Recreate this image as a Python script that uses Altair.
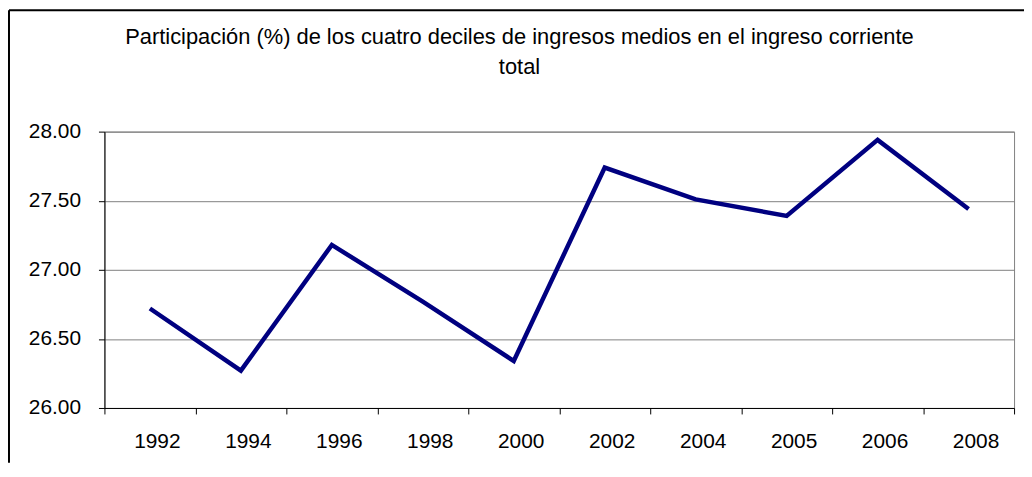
import altair as alt
import pandas as pd

years = ["1992", "1994", "1996", "1998", "2000", "2002", "2004", "2005", "2006", "2008"]
values = [26.72, 26.27, 27.18, 26.77, 26.34, 27.74, 27.51, 27.39, 27.94, 27.44]
title_lines = ["Participación (%) de los cuatro deciles de ingresos medios en el ingreso corriente", "total"]

df = pd.DataFrame({"year": years, "value": values})

W, H = 915, 278
PAD = {"left": 97, "top": 123, "right": 10, "bottom": 55}
FONT = "Liberation Sans"
FS = 21

base = alt.Chart(df)

line = base.mark_line(color="#000080", strokeWidth=4.5, strokeJoin="miter", strokeCap="butt").encode(
    x=alt.X(
        "year:N",
        sort=years,
        bandPosition=0.5,
        scale=alt.Scale(type="band", paddingInner=0, paddingOuter=0),
        axis=alt.Axis(
            title=None,
            labelAngle=0,
            tickBand="extent",
            labelOffset=7,
            labelPadding=17,
            tickSize=6,
            grid=False,
            domainColor="#000000",
            tickColor="#000000",
            labelFont=FONT,
            labelFontSize=FS,
            labelColor="#000000",
        ),
    ),
    y=alt.Y(
        "value:Q",
        scale=alt.Scale(domain=[26, 28], nice=False, zero=False),
        axis=alt.Axis(
            title=None,
            values=[26.0, 26.5, 27.0, 27.5, 28.0],
            format=".2f",
            tickSize=6,
            labelPadding=18,
            grid=True,
            gridColor="#808080",
            gridWidth=1,
            domainColor="#000000",
            tickColor="#000000",
            labelFont=FONT,
            labelFontSize=FS,
            labelColor="#000000",
        ),
    ),
)

frame_data = alt.Data(values=[{}])
top_rule = alt.Chart(frame_data).mark_rule(color="#000000", strokeWidth=2).encode(
    x=alt.value(-96), x2=alt.value(W + PAD["right"]), y=alt.value(-PAD["top"] + 1)
)
left_rule = alt.Chart(frame_data).mark_rule(color="#000000", strokeWidth=2).encode(
    x=alt.value(-PAD["left"] + 1), y=alt.value(-PAD["top"] + 1), y2=alt.value(H + PAD["bottom"])
)

chart = (
    alt.layer(line, top_rule, left_rule)
    .properties(
        width=W,
        height=H,
        padding=PAD,
        background="#ffffff",
        autosize=alt.AutoSizeParams(type="none"),
        title=alt.TitleParams(
            text=title_lines,
            anchor="middle",
            frame="group",
            dx=-40,
            offset=-70,
            fontSize=22,
            fontWeight="normal",
            font=FONT,
            color="#000000",
            lineHeight=30,
        ),
    )
    .configure_view(stroke="#808080", strokeWidth=1)
    .configure_axis(domainWidth=1, tickWidth=1)
)

chart.save("out.html", embed_options={"renderer": "svg", "actions": False})
